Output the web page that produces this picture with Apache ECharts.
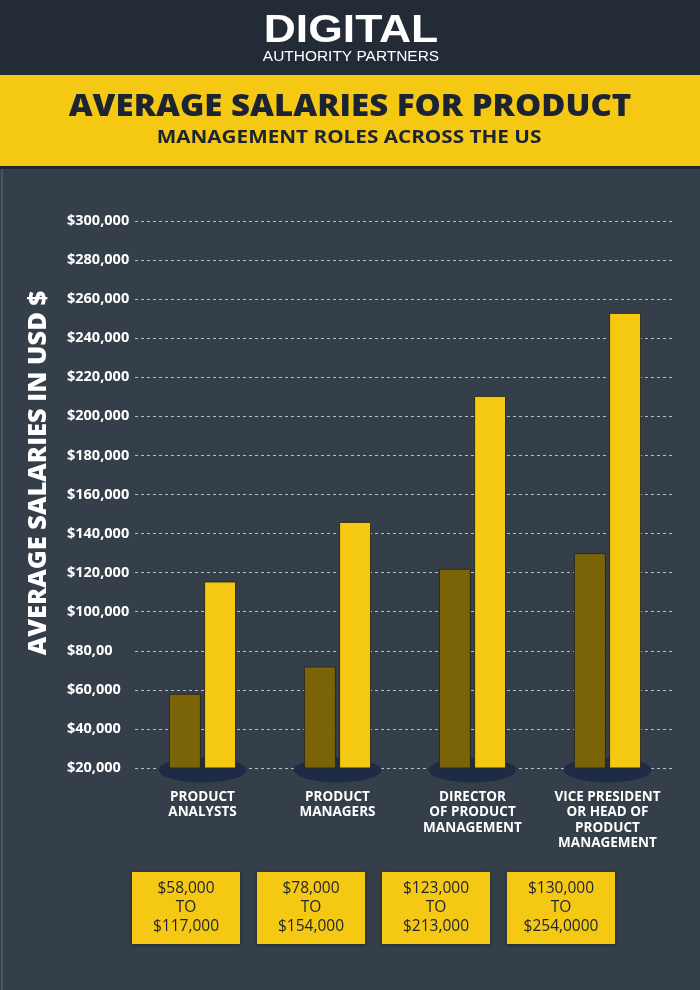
<!DOCTYPE html>
<html>
<head>
<meta charset="utf-8">
<script src="https://cdn.jsdelivr.net/npm/echarts@6/dist/echarts.min.js"></script>
<style>
html,body{margin:0;padding:0;background:#353f4a;}
#chart{width:700px;height:990px;}
</style>
</head>
<body>
<div id="chart"></div>
<script>
// ---- data ----
var categories = ['PRODUCT\nANALYSTS', 'PRODUCT\nMANAGERS', 'DIRECTOR\nOF PRODUCT\nMANAGEMENT', 'VICE PRESIDENT\nOR HEAD OF\nPRODUCT\nMANAGEMENT'];
var lowSalaries = [58000, 72000, 122000, 130000];
var highSalaries = [115500, 146000, 210500, 253000];
var tickLabels = ['$20,000', '$40,000', '$60,000', '$80,00', '$100,000', '$120,000', '$140,000', '$160,000', '$180,000', '$200,000', '$220,000', '$240,000', '$260,000', '$280,000', '$300,000'];
var rangeLow = ['$58,000', '$78,000', '$123,000', '$130,000'];
var rangeHigh = ['$117,000', '$154,000', '$213,000', '$254,0000'];
var baseValues = [20000, 20000, 20000, 20000];

var FONT = '"Open Sans", "DejaVu Sans", sans-serif';
var chart = echarts.init(document.getElementById('chart'), null, {renderer: 'canvas'});

var graphics = [
  {type: 'rect', shape: {x: 0, y: 0, width: 700, height: 75}, style: {fill: '#232b36'}, z: -10},
  {type: 'rect', shape: {x: 0, y: 75, width: 700, height: 93}, style: {fill: '#f4c813'}, z: -10},
  {type: 'rect', shape: {x: 0, y: 166, width: 700, height: 3}, style: {fill: '#1f2636'}, z: -10},
  {type: 'rect', shape: {x: 1, y: 169, width: 2, height: 821}, style: {fill: '#4a5560'}, z: -10},
  {type: 'text', x: 351, y: 32, scaleX: 1.17, style: {text: 'DIGITAL', fill: '#ffffff', font: '900 38px "Liberation Sans", Arial, sans-serif', align: 'center', verticalAlign: 'middle'}},
  {type: 'text', x: 351, y: 57, scaleX: 1.03, style: {text: 'AUTHORITY PARTNERS', fill: '#ffffff', font: '15px "Liberation Sans", Arial, sans-serif', align: 'center', verticalAlign: 'middle'}},
  {type: 'text', x: 350, y: 107, scaleX: 1.1, style: {text: 'AVERAGE SALARIES FOR PRODUCT', fill: '#1c2433', font: '800 30px ' + FONT, align: 'center', verticalAlign: 'middle'}},
  {type: 'text', x: 349, y: 138, scaleX: 1.15, style: {text: 'MANAGEMENT ROLES ACROSS THE US', fill: '#1c2433', font: '700 18px ' + FONT, align: 'center', verticalAlign: 'middle'}},
  {type: 'text', x: 39, y: 473, rotation: Math.PI / 2, style: {text: 'AVERAGE SALARIES IN USD $', fill: '#ffffff', font: '800 25.5px ' + FONT, align: 'center', verticalAlign: 'middle'}}
];

for (var i = 0; i < rangeLow.length; i++) {
  var bx = 132 + i * 125;
  graphics.push({
    type: 'rect', shape: {x: bx, y: 872, width: 108, height: 72},
    style: {fill: '#f4c813', shadowBlur: 4, shadowColor: 'rgba(0,0,0,0.35)', shadowOffsetY: 1}
  });
  graphics.push({
    type: 'text', x: bx + 54, y: 908,
    style: {text: rangeLow[i] + '\nTO\n' + rangeHigh[i], fill: '#1c2433', font: '15.5px ' + FONT, lineHeight: 19, align: 'center', verticalAlign: 'middle'}
  });
}

var option = {
  backgroundColor: '#353f4a',
  animation: false,
  graphic: graphics,
  grid: {left: 135, top: 221, width: 540, height: 547, containLabel: false},
  xAxis: {
    type: 'category',
    data: categories,
    axisLine: {show: false},
    axisTick: {show: false},
    axisLabel: {interval: 0, color: '#ffffff', fontFamily: FONT, fontWeight: 700, fontSize: 13.5, lineHeight: 15.5, margin: 21, verticalAlign: 'top'}
  },
  yAxis: {
    type: 'value',
    min: 20000, max: 300000, interval: 20000,
    axisLine: {show: false},
    axisTick: {show: false},
    axisLabel: {
      color: '#ffffff', fontFamily: FONT, fontWeight: 700, fontSize: 14.5, align: 'left', margin: 68,
      formatter: function (v) { return tickLabels[Math.round((v - 20000) / 20000)]; }
    },
    splitLine: {show: true, lineStyle: {color: '#b8bec6', width: 1, type: [3, 3]}}
  },
  series: [
    {
      type: 'scatter', data: baseValues, symbol: 'circle', symbolSize: [88, 25], symbolOffset: [0, 2], clip: false, z: 1,
      itemStyle: {color: '#1d2b46', opacity: 1}, silent: true
    },
    {
      type: 'bar', data: lowSalaries, barWidth: 32, barGap: '10%', z: 3,
      itemStyle: {color: '#7b6307', borderColor: '#2b2a1e', borderWidth: 1}
    },
    {
      type: 'bar', data: highSalaries, barWidth: 32, barGap: '10%', z: 3,
      itemStyle: {color: '#f5c912', borderColor: '#2b2a1e', borderWidth: 1}
    }
  ]
};
chart.setOption(option);
</script>
</body>
</html>
